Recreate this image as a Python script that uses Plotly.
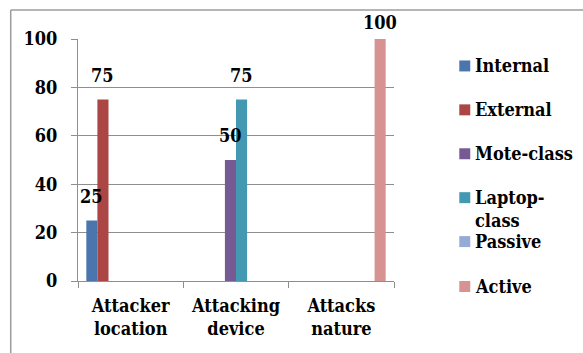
import plotly.graph_objects as go

# Chart data
categories = ["Attacker<br>location", "Attacking<br>device", "Attacks<br>nature"]
series_names = ["Internal", "External", "Mote-class", "Laptop-class", "Passive", "Active"]
legend_labels = ["Internal", "External", "Mote-class", "Laptop-<br>class", "Passive", "Active"]
internal = [25, None, None]
external = [75, None, None]
mote_class = [None, 50, None]
laptop_class = [None, 75, None]
passive = [None, None, 0]
active = [None, None, 100]
y_ticks = [0, 20, 40, 60, 80, 100]

series_values = [internal, external, mote_class, laptop_class, passive, active]
colors = ["#4A75AD", "#AB4644", "#755A93", "#4399B2", "#95AAD5", "#D79292"]
# Cluster slot of each series (8-slot clusters; slots 2 and 5 are unused)
slots = [0, 1, 3, 4, 6, 7]
n_slots = 8
gap_ratio = 1.5  # gap between clusters as a multiple of a bar width

W, H = 583, 353
PLOT_L, PLOT_R, PLOT_T, PLOT_B = 77.5, 394.5, 39.0, 281.5
FONT = "DejaVu Serif Condensed, DejaVu Serif"
FS = 18
GRID = "#8e8e8e"


def paper_x(px):
    return (px - PLOT_L) / (PLOT_R - PLOT_L)


def paper_y(py):
    return (PLOT_B - py) / (PLOT_B - PLOT_T)


def bold(s):
    return "<b>" + s.replace("<br>", "</b><br><b>") + "</b>"


bar_w = 1.0 / (n_slots + gap_ratio)
start = -0.5 + gap_ratio * bar_w / 2

fig = go.Figure()
annotations = []
for name, vals, col, slot in zip(series_names, series_values, colors, slots):
    off = start + slot * bar_w
    fig.add_trace(go.Bar(
        x=categories, y=vals, name=name,
        marker=dict(color=col, line=dict(width=0)),
        width=bar_w, offset=off, showlegend=False,
    ))
    for i, v in enumerate(vals):
        if v:
            shift = 4 if v >= 100 else 12
            annotations.append(dict(
                x=i + off + bar_w / 2, y=v, xref="x", yref="y",
                text=bold(str(v)), showarrow=False, xanchor="center",
                yanchor="bottom", yshift=shift,
                font=dict(family=FONT, size=FS, color="black"),
            ))

shapes = []
# Outer frame (top and left edges)
shapes.append(dict(type="line", xref="paper", yref="paper",
                   x0=paper_x(10), x1=paper_x(600), y0=paper_y(10), y1=paper_y(10),
                   line=dict(color="#9c9c9c", width=1.5)))
shapes.append(dict(type="line", xref="paper", yref="paper",
                   x0=paper_x(10), x1=paper_x(10), y0=paper_y(10), y1=paper_y(370),
                   line=dict(color="#9c9c9c", width=1.5)))

# Legend entries
leg_y = [66, 110, 154, 198, 242, 287]
for lab, col, cy in zip(legend_labels, colors, leg_y):
    shapes.append(dict(type="rect", xref="paper", yref="paper",
                       x0=paper_x(460), x1=paper_x(471),
                       y0=paper_y(cy + 5.5), y1=paper_y(cy - 5.5),
                       fillcolor=col, line=dict(width=0)))
    annotations.append(dict(
        x=paper_x(474), y=paper_y(cy - 13), xref="paper", yref="paper",
        text=bold(lab), showarrow=False,
        xanchor="left", yanchor="top", align="left",
        font=dict(family=FONT, size=FS, color="black"),
    ))

fig.update_layout(
    width=W, height=H,
    margin=dict(l=PLOT_L, r=W - PLOT_R, t=PLOT_T, b=H - PLOT_B, pad=0,
                autoexpand=False),
    paper_bgcolor="white", plot_bgcolor="white",
    font=dict(family=FONT, size=FS, color="black"),
    barmode="overlay",
    shapes=shapes, annotations=annotations,
    showlegend=False,
)
fig.update_xaxes(
    type="category", showgrid=False, showline=True, linecolor=GRID, linewidth=1,
    ticks="outside", tickson="boundaries", ticklen=6, tickcolor=GRID,
    ticklabelstandoff=8, range=[-0.5, 2.5], tickangle=0, automargin=False,
    tickvals=categories, ticktext=[bold(c) for c in categories],
)
fig.update_yaxes(
    range=[0, 100], tickvals=y_ticks, ticktext=[bold(str(t)) for t in y_ticks],
    showgrid=True, gridcolor=GRID, gridwidth=1,
    showline=True, linecolor=GRID, linewidth=1, zeroline=False,
    ticks="outside", ticklen=6, tickcolor=GRID, ticklabelstandoff=10,
    automargin=False,
)

fig.write_html("out.html")
